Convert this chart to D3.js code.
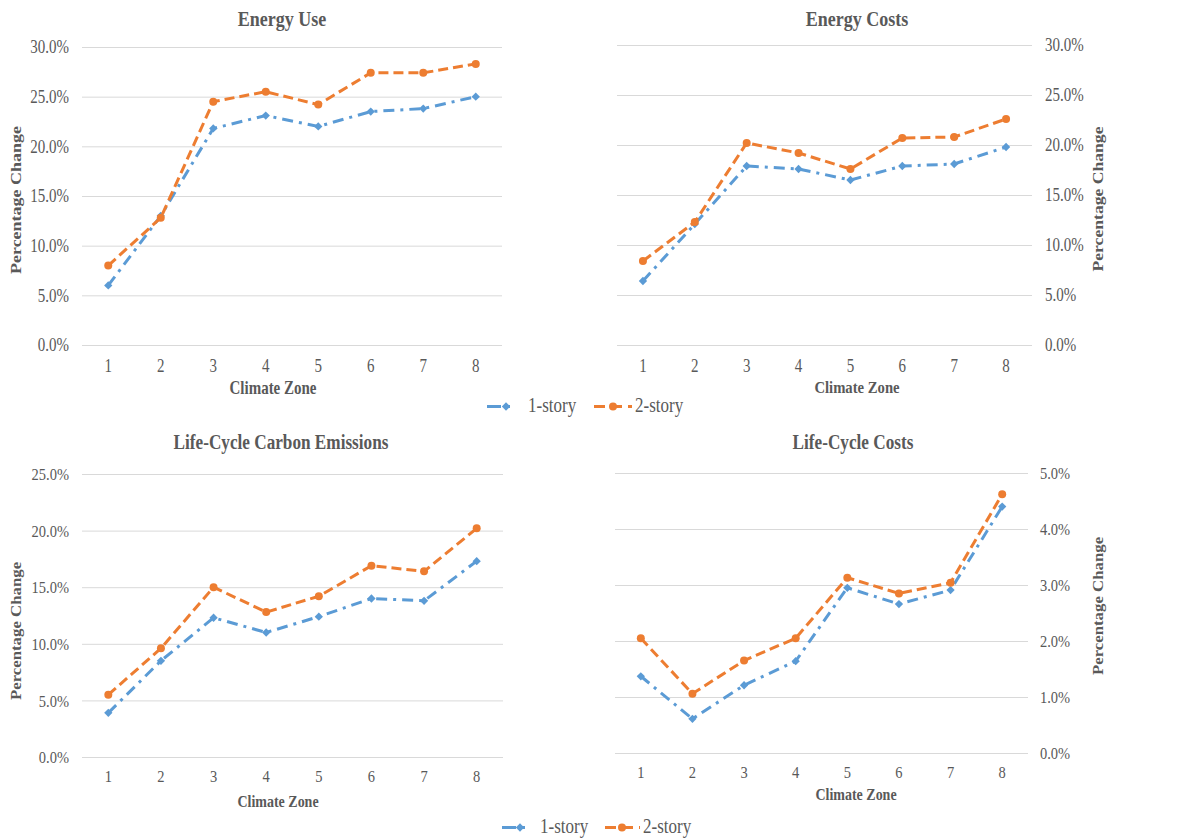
<!DOCTYPE html>
<html>
<head>
<meta charset="utf-8">
<script src="https://cdn.jsdelivr.net/npm/d3@7"></script>
<style>
  html, body { margin: 0; padding: 0; background: #fff; }
  svg { display: block; }
  text { font-family: "Liberation Serif", "Times New Roman", serif; fill: #595959; }
</style>
</head>
<body>
<svg id="chart" width="1191" height="838"></svg>
<script>
// ---- data ----
const zones = [1, 2, 3, 4, 5, 6, 7, 8];
const seriesNames = ["1-story", "2-story"];

const energyUse1 = [6.0, 13.0, 21.8, 23.1, 22.0, 23.5, 23.8, 25.0];
const energyUse2 = [8.0, 12.8, 24.5, 25.5, 24.2, 27.4, 27.4, 28.3];

const energyCost1 = [6.4, 12.1, 17.9, 17.6, 16.5, 17.9, 18.1, 19.8];
const energyCost2 = [8.4, 12.3, 20.2, 19.2, 17.6, 20.7, 20.8, 22.6];

const carbon1 = [3.9, 8.5, 12.3, 11.0, 12.4, 14.0, 13.8, 17.3];
const carbon2 = [5.5, 9.6, 15.0, 12.8, 14.2, 16.9, 16.4, 20.2];

const lcc1 = [1.37, 0.61, 1.21, 1.64, 2.95, 2.66, 2.91, 4.40];
const lcc2 = [2.05, 1.06, 1.65, 2.05, 3.13, 2.85, 3.04, 4.62];

const ticksEnergyUse = [0, 5, 10, 15, 20, 25, 30];
const ticksEnergyCost = [0, 5, 10, 15, 20, 25, 30];
const ticksCarbon = [0, 5, 10, 15, 20, 25];
const ticksLcc = [0, 1, 2, 3, 4, 5];

const titles = ["Energy Use", "Energy Costs", "Life-Cycle Carbon Emissions", "Life-Cycle Costs"];
const xTitle = "Climate Zone";
const yTitle = "Percentage Change";

// ---- style ----
const BLUE = "#5B9BD5", ORANGE = "#ED7D31", GRID = "#D9D9D9";
const SY = 1.2; // vertical stretch of text in the reference

const svg = d3.select("#chart");

function stretchedText(g, x, y, txt, size, opts = {}) {
  const t = g.append("text")
    .attr("transform", `translate(${x},${y}) scale(1,${SY})` + (opts.rotate ? " rotate(-90)" : ""))
    .attr("text-anchor", opts.anchor || "middle")
    .style("font-size", size + "px")
    .text(txt);
  if (opts.bold) t.style("font-weight", "bold");
  return t;
}

function panel(cfg, one, two, ticks) {
  const g = svg.append("g");
  const x = d3.scaleBand().domain(zones).range([cfg.left, cfg.right]);
  const cx = d => x(d) + x.bandwidth() / 2;
  const y = d3.scaleLinear().domain([0, d3.max(ticks)]).range([cfg.bottom, cfg.top]);
  const w = cfg.right - cfg.left;

  // y axis with gridlines
  const yAxis = (cfg.side === "left" ? d3.axisLeft(y) : d3.axisRight(y))
    .tickValues(ticks)
    .tickSize(-w)
    .tickPadding(cfg.tickPad)
    .tickFormat(d => d.toFixed(1) + "%");
  const ya = g.append("g")
    .attr("transform", `translate(${cfg.side === "left" ? cfg.left : cfg.right},0)`)
    .call(yAxis);
  ya.select(".domain").remove();
  ya.selectAll(".tick line").attr("stroke", GRID).attr("stroke-width", 1);
  ya.selectAll(".tick text")
    .attr("fill", "#595959")
    .style("font-family", "'Liberation Serif', serif")
    .style("font-size", cfg.tickSize + "px")
    .attr("dy", "0.33em")
    .attr("transform", `scale(1,${SY})`);

  // x axis labels
  const xa = g.append("g")
    .attr("transform", `translate(0,${cfg.xTickY})`)
    .call(d3.axisBottom(x).tickSize(0));
  xa.select(".domain").remove();
  xa.selectAll(".tick text")
    .attr("y", 0).attr("dy", 0)
    .attr("fill", "#595959")
    .style("font-family", "'Liberation Serif', serif")
    .style("font-size", cfg.tickSize + "px")
    .attr("transform", `scale(1,${SY})`);

  // titles
  stretchedText(g, cfg.titleX, cfg.titleY, cfg.title, cfg.titleSize, { bold: true });
  stretchedText(g, cfg.xTitleX, cfg.xTitleY, xTitle, cfg.axisTitleSize, { bold: true });
  stretchedText(g, cfg.yTitleX, cfg.yTitleY, yTitle, cfg.axisTitleSize, { bold: true, rotate: true });

  const line = d3.line().x((d, i) => cx(zones[i])).y(d => y(d));

  // 1-story
  g.append("path").datum(one)
    .attr("d", line).attr("fill", "none")
    .attr("stroke", BLUE).attr("stroke-width", 3)
    .attr("stroke-dasharray", "11,6,3,6");
  g.selectAll(".d1").data(one).join("path")
    .attr("transform", (d, i) => `translate(${cx(zones[i])},${y(d)})`)
    .attr("d", d3.symbol(d3.symbolDiamond2, 44)())
    .attr("fill", BLUE);

  // 2-story
  g.append("path").datum(two)
    .attr("d", line).attr("fill", "none")
    .attr("stroke", ORANGE).attr("stroke-width", 3)
    .attr("stroke-dasharray", "10,5");
  g.selectAll(".d2").data(two).join("circle")
    .attr("cx", (d, i) => cx(zones[i]))
    .attr("cy", d => y(d))
    .attr("r", 4)
    .attr("fill", ORANGE);
}

function legend(cfg) {
  const g = svg.append("g");
  // 1-story
  g.append("line").attr("x1", cfg.b1).attr("x2", cfg.b2).attr("y1", cfg.y).attr("y2", cfg.y)
    .attr("stroke", BLUE).attr("stroke-width", 3).attr("stroke-dasharray", "14,6,3,6");
  g.append("path").attr("transform", `translate(${cfg.bm},${cfg.y})`)
    .attr("d", d3.symbol(d3.symbolDiamond2, 44)()).attr("fill", BLUE);
  stretchedText(g, cfg.bt, cfg.ty, seriesNames[0], 17, { anchor: "start" });
  // 2-story
  g.append("line").attr("x1", cfg.o1).attr("x2", cfg.o2).attr("y1", cfg.y).attr("y2", cfg.y)
    .attr("stroke", ORANGE).attr("stroke-width", 3).attr("stroke-dasharray", "11,6");
  g.append("circle").attr("cx", cfg.om).attr("cy", cfg.y).attr("r", 4).attr("fill", ORANGE);
  stretchedText(g, cfg.ot, cfg.ty, seriesNames[1], 17, { anchor: "start" });
}

panel({ left: 82, right: 502, top: 47, bottom: 345, side: "left", tickPad: 13, tickSize: 15,
        xTickY: 372, title: titles[0], titleX: 282, titleY: 26, titleSize: 18,
        xTitleX: 273, xTitleY: 394, yTitleX: 20.5, yTitleY: 200, axisTitleSize: 15 },
      energyUse1, energyUse2, ticksEnergyUse);

panel({ left: 617, right: 1032, top: 45, bottom: 345, side: "right", tickPad: 13, tickSize: 15,
        xTickY: 372, title: titles[1], titleX: 857, titleY: 26, titleSize: 18,
        xTitleX: 857, xTitleY: 393, yTitleX: 1103, yTitleY: 199, axisTitleSize: 14.7 },
      energyCost1, energyCost2, ticksEnergyCost);

panel({ left: 82, right: 503, top: 474, bottom: 757, side: "left", tickPad: 13, tickSize: 14.5,
        xTickY: 782, title: titles[2], titleX: 281, titleY: 449, titleSize: 17.2,
        xTitleX: 278, xTitleY: 806.5, yTitleX: 20.5, yTitleY: 631, axisTitleSize: 14 },
      carbon1, carbon2, ticksCarbon);

panel({ left: 615, right: 1028, top: 473, bottom: 753, side: "right", tickPad: 12, tickSize: 14.5,
        xTickY: 778, title: titles[3], titleX: 853, titleY: 449, titleSize: 17.2,
        xTitleX: 856, xTitleY: 800, yTitleX: 1103, yTitleY: 606, axisTitleSize: 14 },
      lcc1, lcc2, ticksLcc);

legend({ y: 406.5, ty: 412, b1: 487, b2: 514, bm: 506, bt: 528, o1: 594, o2: 632, om: 613, ot: 635 });
legend({ y: 827.5, ty: 833, b1: 502, b2: 528, bm: 520, bt: 540, o1: 605, o2: 640, om: 622, ot: 643 });
</script>
</body>
</html>
